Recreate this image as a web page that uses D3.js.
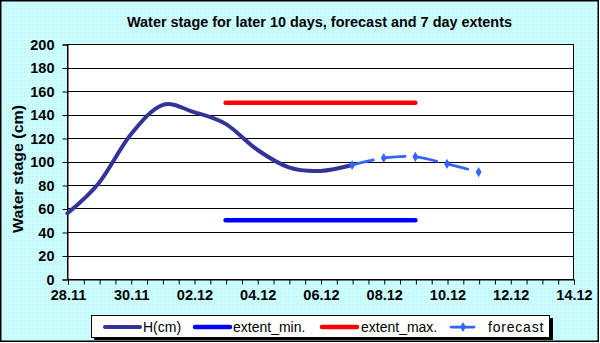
<!DOCTYPE html>
<html>
<head>
<meta charset="utf-8">
<script src="https://cdn.jsdelivr.net/npm/d3@7"></script>
<style>
  html, body { margin: 0; padding: 0; background: #fff; }
  #container { width: 600px; height: 343px; }
  text { font-family: "Liberation Sans", Arial, sans-serif; }
</style>
</head>
<body>
<div id="container"></div>
<script>
// data
const hDates = ["28.11", "29.11", "30.11", "01.12", "02.12", "03.12", "04.12", "05.12", "06.12", "07.12"];
const hValues = [56, 82, 123, 148, 142, 132, 110, 95, 92, 97];

const forecastDates = ["07.12", "08.12", "09.12", "10.12", "11.12"];
const forecastValues = [97, 103, 104, 98, 91];

const extentDates = ["03.12", "09.12"];
const extentMin = [50, 50];
const extentMax = [150, 150];

const tickLabels = ["28.11", "30.11", "02.12", "04.12", "06.12", "08.12", "10.12", "12.12", "14.12"];
const yTicks = [0, 20, 40, 60, 80, 100, 120, 140, 160, 180, 200];

const seriesNames = ["H(cm)", "extent_min.", "extent_max.", "forecast"];

const parse = s => d3.timeParse("%d.%m.%Y")(s + ".2010");
const fmt = d3.timeFormat("%d.%m");

const width = 600, height = 343;
const svg = d3.select("#container").append("svg")
  .attr("width", width)
  .attr("height", height);

// dotted cyan background
const defs = svg.append("defs");
const pat = defs.append("pattern")
  .attr("id", "dots")
  .attr("width", 4).attr("height", 4)
  .attr("patternUnits", "userSpaceOnUse");
pat.append("rect").attr("width", 4).attr("height", 4).attr("fill", "#ccffff");
pat.append("rect").attr("x", 0).attr("y", 0).attr("width", 1).attr("height", 1).attr("fill", "#b3ebf5");
pat.append("rect").attr("x", 2).attr("y", 2).attr("width", 1).attr("height", 1).attr("fill", "#bff3fa");

svg.append("rect")
  .attr("x", 0.75).attr("y", 0.75)
  .attr("width", 597.5).attr("height", 340.5)
  .attr("fill", "url(#dots)")
  .attr("stroke", "#000")
  .attr("stroke-width", 1.5);

// plot area
const plot = { left: 67.5, right: 573.5, top: 44, bottom: 279 };

const x = d3.scaleTime()
  .domain([parse(tickLabels[0]), parse(tickLabels[tickLabels.length - 1])])
  .range([plot.left, plot.right]);

const y = d3.scaleLinear()
  .domain([0, 200])
  .range([plot.bottom, plot.top]);

svg.append("rect")
  .attr("x", plot.left).attr("y", plot.top)
  .attr("width", plot.right - plot.left)
  .attr("height", plot.bottom - plot.top)
  .attr("fill", "#fff");

// gridlines
svg.append("g")
  .selectAll("line")
  .data(yTicks)
  .enter().append("line")
  .attr("x1", plot.left).attr("x2", plot.right)
  .attr("y1", d => Math.round(y(d)) + 0.5)
  .attr("y2", d => Math.round(y(d)) + 0.5)
  .attr("stroke", "#000")
  .attr("stroke-width", 1);

svg.append("rect")
  .attr("x", plot.left).attr("y", plot.top + 0.5)
  .attr("width", plot.right - plot.left)
  .attr("height", plot.bottom - plot.top)
  .attr("fill", "none")
  .attr("stroke", "#000");

// y axis
const yAxis = svg.append("g")
  .attr("transform", `translate(${plot.left},0.5)`)
  .call(d3.axisLeft(y).tickValues(yTicks).tickSize(5).tickPadding(8));
yAxis.select(".domain").attr("stroke", "#000");
yAxis.selectAll("line").attr("stroke", "#000");
yAxis.selectAll("text")
  .style("font-size", "14.5px")
  .style("font-weight", "bold")
  .attr("fill", "#000");

// x axis: ticks every 12 hours, labels every 2 days
const xTickVals = d3.timeHour.every(12).range(x.domain()[0], +x.domain()[1] + 1);
const labelSet = new Set(tickLabels);
const xAxis = svg.append("g")
  .attr("transform", `translate(0.5,${plot.bottom + 0.5})`)
  .call(d3.axisBottom(x)
    .tickValues(xTickVals)
    .tickSize(5)
    .tickPadding(5)
    .tickFormat(d => (d.getHours() === 0 && labelSet.has(fmt(d))) ? fmt(d) : ""));
xAxis.select(".domain").attr("stroke", "#000");
xAxis.selectAll("line").attr("stroke", "#000");
xAxis.selectAll("text")
  .style("font-size", "14.5px")
  .style("font-weight", "bold")
  .attr("fill", "#000");

// series
const curve = d3.curveCardinal.tension(0);
const line = d3.line()
  .x(d => x(d[0]))
  .y(d => y(d[1]))
  .curve(curve);

const hData = hDates.map((d, i) => [parse(d), hValues[i]]);
const fData = forecastDates.map((d, i) => [parse(d), forecastValues[i]]);
const minData = extentDates.map((d, i) => [parse(d), extentMin[i]]);
const maxData = extentDates.map((d, i) => [parse(d), extentMax[i]]);

svg.append("path")
  .attr("d", line(minData))
  .attr("fill", "none")
  .attr("stroke", "#0000ff")
  .attr("stroke-width", 4.5)
  .attr("stroke-linecap", "round");

svg.append("path")
  .attr("d", line(maxData))
  .attr("fill", "none")
  .attr("stroke", "#ff0000")
  .attr("stroke-width", 4.5)
  .attr("stroke-linecap", "round");

svg.append("path")
  .attr("d", line(hData))
  .attr("fill", "none")
  .attr("stroke", "#333399")
  .attr("stroke-width", 4)
  .attr("stroke-linecap", "round")
  .attr("stroke-linejoin", "round");

svg.append("path")
  .attr("d", line(fData))
  .attr("fill", "none")
  .attr("stroke", "#3366ff")
  .attr("stroke-width", 2.75)
  .attr("stroke-dasharray", "23,9");

const diamond = d3.symbol().type(d3.symbolDiamond).size(30);
svg.append("g")
  .selectAll("path")
  .data(fData)
  .enter().append("path")
  .attr("d", diamond)
  .attr("transform", d => `translate(${x(d[0])},${y(d[1])})`)
  .attr("fill", "#3366ff");

// title
svg.append("text")
  .attr("x", 127)
  .attr("y", 27)
  .attr("textLength", 385)
  .attr("lengthAdjust", "spacingAndGlyphs")
  .style("font-size", "14.5px")
  .style("font-weight", "bold")
  .text("Water stage for later 10 days, forecast and 7 day  extents");

// y title
svg.append("text")
  .attr("transform", "translate(23,169) rotate(-90)")
  .attr("text-anchor", "middle")
  .attr("textLength", 128)
  .attr("lengthAdjust", "spacingAndGlyphs")
  .style("font-size", "15px")
  .style("font-weight", "bold")
  .text("Water stage (cm)");

// legend
const lg = svg.append("g");
lg.append("rect")
  .attr("x", 94).attr("y", 318)
  .attr("width", 459).attr("height", 22)
  .attr("fill", "#000");
lg.append("rect")
  .attr("x", 91.5).attr("y", 315.5)
  .attr("width", 458).attr("height", 22)
  .attr("fill", "#fff")
  .attr("stroke", "#000");

const legendItems = [
  { name: seriesNames[0], color: "#333399", w: 4, x1: 105, x2: 140, tx: 143 },
  { name: seriesNames[1], color: "#0000ff", w: 4.5, x1: 195, x2: 230, tx: 233 },
  { name: seriesNames[2], color: "#ff0000", w: 4.5, x1: 322, x2: 357, tx: 361 },
  { name: seriesNames[3], color: "#3366ff", w: 2.75, x1: 451, x2: 474, tx: 488 }
];
const ly = 327;
const li = lg.selectAll("g.item").data(legendItems).enter().append("g");
li.append("line")
  .attr("x1", d => d.x1).attr("x2", d => d.x2)
  .attr("y1", ly).attr("y2", ly)
  .attr("stroke", d => d.color)
  .attr("stroke-width", d => d.w)
  .attr("stroke-linecap", "round");
li.append("text")
  .attr("x", d => d.tx)
  .attr("y", ly + 5)
  .style("font-size", "14px")
  .style("letter-spacing", d => d.name === "forecast" ? "0.8px" : "0px")
  .text(d => d.name);
lg.append("path")
  .attr("d", diamond)
  .attr("transform", `translate(463,${ly})`)
  .attr("fill", "#3366ff");
</script>
</body>
</html>
